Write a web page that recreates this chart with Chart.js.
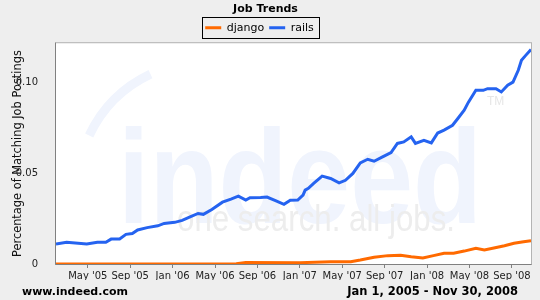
<!DOCTYPE html>
<html>
<head>
<meta charset="utf-8">
<script src="https://cdn.jsdelivr.net/npm/chart.js@4/dist/chart.umd.min.js"></script>
<style>
  body { margin: 0; background: #eeeeee; }
  canvas { display: block; }
</style>
</head>
<body>
<canvas id="chart" width="540" height="300"></canvas>
<script>
// months since Jan 2005 (1 = Feb '05)
const railsMonths = [1.0, 2.0, 3.9, 4.9, 5.7, 6.2, 7.0, 7.6, 8.2, 8.7,
    9.6, 10.6, 11.2, 12.2, 12.9, 13.7, 14.4, 14.9, 15.7, 16.7,
    17.5, 18.2, 18.9, 19.3, 20.3, 20.9, 21.7, 22.5, 23.1, 23.8,
    24.3, 24.5, 24.8, 25.3, 26.1, 26.9, 27.7, 28.3, 29.0, 29.7,
    30.4, 31.0, 31.8, 32.6, 33.2, 33.8, 34.5, 34.9, 35.7, 36.4,
    37.0, 37.6, 38.4, 38.9, 39.5, 39.9, 40.6, 41.3, 41.7, 42.5,
    43.0, 43.6, 44.1, 44.6, 44.9, 45.3, 45.8];
const railsValues = [0.0110, 0.0119, 0.0110, 0.0120, 0.0120, 0.0137, 0.0138, 0.0163, 0.0168, 0.0187,
    0.0200, 0.0210, 0.0223, 0.0229, 0.0240, 0.0260, 0.0278, 0.0273, 0.0300, 0.0340,
    0.0357, 0.0373, 0.0351, 0.0364, 0.0366, 0.0368, 0.0348, 0.0328, 0.0350, 0.0352,
    0.0379, 0.0406, 0.0416, 0.0443, 0.0483, 0.0470, 0.0446, 0.0460, 0.0498, 0.0556,
    0.0576, 0.0565, 0.0589, 0.0613, 0.0663, 0.0671, 0.0699, 0.0663, 0.0680, 0.0666,
    0.0720, 0.0736, 0.0763, 0.0800, 0.0846, 0.0890, 0.0955, 0.0955, 0.0964, 0.0964,
    0.0946, 0.0983, 0.1000, 0.1065, 0.1120, 0.1147, 0.1180];

const djangoMonths = [1.0, 18.0, 18.9, 24.0, 26.9, 28.8, 29.7, 31.0, 32.3, 33.5,
    34.5, 35.6, 36.6, 37.6, 38.5, 39.5, 40.6, 41.4, 42.3, 43.3,
    44.2, 45.1, 45.8];
const djangoValues = [0.0000, 0.0002, 0.0008, 0.0007, 0.0013, 0.0013, 0.0022, 0.0037, 0.0046, 0.0048,
    0.0040, 0.0033, 0.0046, 0.0059, 0.0059, 0.0071, 0.0086, 0.0077, 0.0088, 0.0100,
    0.0114, 0.0122, 0.0128];

const tickMonths = [4, 8, 12, 16, 20, 24, 28, 32, 36, 40, 44];
const tickLabels = ["May '05", "Sep '05", "Jan '06", "May '06", "Sep '06", "Jan '07",
    "May '07", "Sep '07", "Jan '08", "May '08", "Sep '08"];

const fontFam = '"DejaVu Sans", sans-serif';

// Hintergrund, Wasserzeichen und Rahmen
const background = {
    id: "background",
    afterLayout(chart) {
        // Legende etwas nach links schieben
        chart.legend.left -= 6;
        chart.legend.right -= 6;
    },
    beforeDraw(chart) {
        const { ctx, chartArea: a } = chart;
        ctx.save();
        ctx.fillStyle = "#eeeeee";
        ctx.fillRect(0, 0, chart.width, chart.height);
        ctx.fillStyle = "#ffffff";
        ctx.fillRect(a.left, a.top, a.right - a.left, a.bottom - a.top);

        ctx.beginPath();
        ctx.rect(a.left, a.top, a.right - a.left, a.bottom - a.top);
        ctx.clip();

        ctx.strokeStyle = "#f0f4fd";
        ctx.lineWidth = 9;
        ctx.beginPath();
        ctx.arc(205, 190, 128, Math.PI * 1.14, Math.PI * 1.36);
        ctx.stroke();

        ctx.fillStyle = "#f0f4fd";
        ctx.font = 'bold 133px "Liberation Sans"';
        let w = ctx.measureText("indeed").width;
        ctx.save();
        ctx.translate(118, 186);
        ctx.scale(364 / w, 1);
        ctx.fillText("indeed", 0, 0);
        ctx.restore();

        ctx.fillStyle = "#ededed";
        ctx.font = '36px "Liberation Sans"';
        w = ctx.measureText("one search. all jobs.").width;
        ctx.save();
        ctx.translate(177, 221);
        ctx.scale(278 / w, 1);
        ctx.fillText("one search. all jobs.", 0, 0);
        ctx.restore();

        ctx.fillStyle = "#e6e6e6";
        ctx.font = '12px "Liberation Sans"';
        ctx.fillText("TM", 487, 102);
        ctx.restore();
    },
    beforeDatasetsDraw(chart) {
        const { ctx, chartArea: a } = chart;
        ctx.save();
        ctx.strokeStyle = "#b4b4b4";
        ctx.lineWidth = 1;
        ctx.strokeRect(a.left - 0.5, a.top - 0.5, a.right - a.left + 1, a.bottom - a.top + 1);
        ctx.strokeStyle = "#808080";
        ctx.beginPath();
        ctx.moveTo(a.left - 0.5, a.top - 0.5);
        ctx.lineTo(a.left - 0.5, a.bottom + 0.5);
        ctx.lineTo(a.right + 0.5, a.bottom + 0.5);
        ctx.stroke();
        ctx.restore();
    },
    afterDraw(chart) {
        const { ctx } = chart;
        ctx.save();
        // Rahmen um die Legende
        const hb = chart.legend.legendHitBoxes;
        if (hb && hb.length) {
            const l = Math.min(...hb.map(h => h.left)) - 3;
            const r = Math.max(...hb.map(h => h.left + h.width)) + 5;
            const t = hb[0].top - 5;
            const b = hb[0].top + hb[0].height + 5;
            ctx.strokeStyle = "#000";
            ctx.lineWidth = 1;
            ctx.strokeRect(Math.round(l) + 0.5, Math.round(t) + 0.5, Math.round(r - l), Math.round(b - t));
        }
        ctx.fillStyle = "#000";
        ctx.textBaseline = "alphabetic";
        ctx.textAlign = "left";
        ctx.font = "bold 11px " + fontFam;
        ctx.fillText("www.indeed.com", 22, 295);
        ctx.textAlign = "right";
        ctx.font = "bold 11.5px " + fontFam;
        ctx.fillText("Jan 1, 2005 - Nov 30, 2008", 518, 295);
        ctx.restore();
    },
};

const ctx = document.getElementById("chart").getContext("2d");

const myChart = new Chart(ctx, {
    type: "line",
    data: {
        datasets: [{
            label: "django",
            data: djangoMonths.map((m, i) => ({ x: m, y: djangoValues[i] })),
            borderColor: "#ff6a00",
            backgroundColor: "#ff6a00",
            borderWidth: 3,
            pointRadius: 0,
            fill: false,
        }, {
            label: "rails",
            data: railsMonths.map((m, i) => ({ x: m, y: railsValues[i] })),
            borderColor: "#2563f0",
            backgroundColor: "#2563f0",
            borderWidth: 3,
            pointRadius: 0,
            fill: false,
        }],
    },
    options: {
        responsive: false,
        animation: false,
        layout: { padding: { left: 0, right: 9, top: 0, bottom: 20 } },
        plugins: {
            title: {
                display: true,
                text: "Job Trends",
                color: "#000",
                font: { family: fontFam, size: 11, weight: "bold" },
                padding: { top: 3, bottom: 1 },
            },
            legend: {
                display: true,
                labels: {
                    color: "#000",
                    font: { family: fontFam, size: 11 },
                    boxWidth: 16,
                    boxHeight: 3,
                    padding: 5,
                    generateLabels: (chart) => Chart.defaults.plugins.legend.labels.generateLabels(chart)
                        .map(l => ({ ...l, lineWidth: 0 })),
                },
            },
            tooltip: { enabled: false },
        },
        scales: {
            x: {
                type: "linear",
                min: 1,
                max: 45.8,
                afterBuildTicks: (s) => { s.ticks = tickMonths.map(v => ({ value: v })); },
                afterFit: (s) => { s.height = 16; },
                ticks: {
                    autoSkip: false,
                    maxRotation: 0,
                    padding: 2,
                    color: "#222",
                    font: { family: fontFam, size: 10 },
                    callback: (v, i) => tickLabels[i],
                },
                grid: { drawOnChartArea: false, tickLength: 4, color: "#808080" },
                border: { display: false },
            },
            y: {
                min: 0,
                max: 0.1214,
                afterFit: (s) => { s.width = 56; },
                ticks: {
                    stepSize: 0.05,
                    includeBounds: false,
                    padding: 10,
                    color: "#222",
                    font: { family: fontFam, size: 10 },
                },
                grid: { display: false },
                border: { display: false },
                title: {
                    display: true,
                    text: "Percentage of Matching Job Postings",
                    color: "#111",
                    font: { family: fontFam, size: 11.4 },
                    padding: { top: 11, bottom: 0 },
                },
            },
        },
    },
    plugins: [background],
});
</script>
</body>
</html>
